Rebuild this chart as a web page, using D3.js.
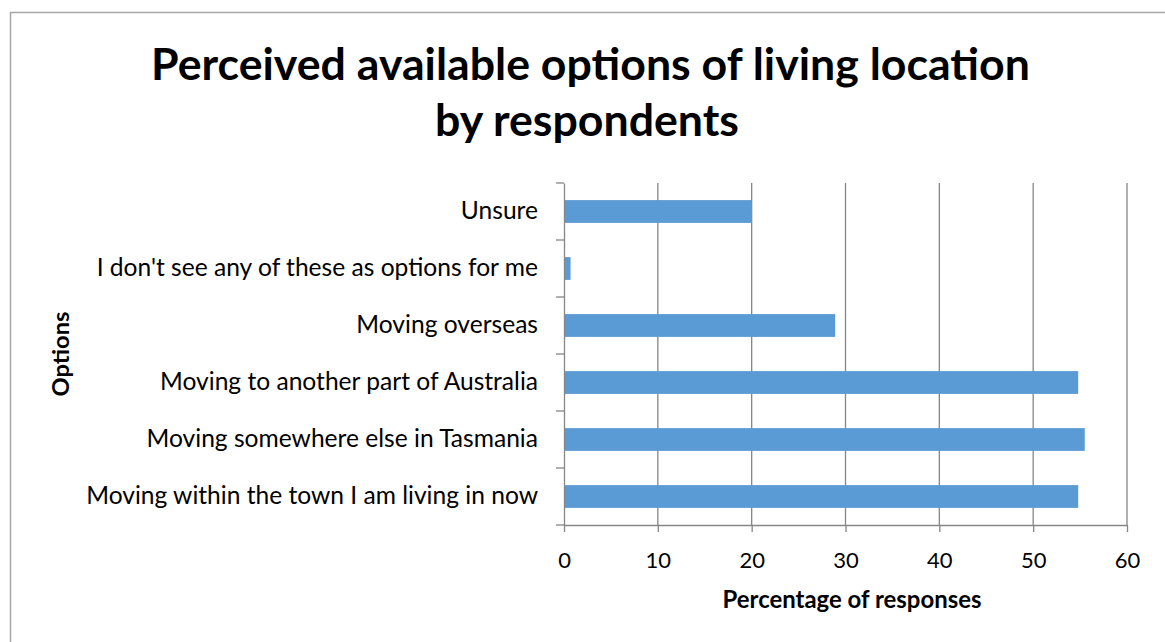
<!DOCTYPE html>
<html><head><meta charset="utf-8">
<script src="https://cdn.jsdelivr.net/npm/d3@7/dist/d3.min.js"></script>
<style>html,body{margin:0;padding:0;background:#fff;}svg{display:block;}</style>
</head><body>
<svg id="chart" width="1165" height="642"></svg>
<script>
const categories = [
  "Unsure",
  "I don't see any of these as options for me",
  "Moving overseas",
  "Moving to another part of Australia",
  "Moving somewhere else in Tasmania",
  "Moving within the town I am living in now"
];
const values = [20.0, 0.7, 28.9, 54.8, 55.5, 54.8];
const xTicks = [0, 10, 20, 30, 40, 50, 60];
const titleLines = ["Perceived available options of living location", "by respondents"];
const xTitle = "Percentage of responses";
const yTitle = "Options";

const FONT = "Lato, 'Open Sans', sans-serif";
const svg = d3.select("#chart");
const plot = {left: 564, right: 1127, top: 183, bottom: 525};
const gridColor = "#868686";

function fit(sel, target) {
  const node = sel.node();
  const fs = parseFloat(sel.attr("font-size"));
  const w = node.getComputedTextLength();
  sel.attr("font-size", (fs * target / w).toFixed(2));
}

// outer border
svg.append("rect").attr("x", 10.5).attr("y", 12.5).attr("width", 1165).attr("height", 700)
  .attr("fill", "#fff").attr("stroke", "#a6a6a6").attr("stroke-width", 1.5);

const x = d3.scaleLinear().domain([0, 60]).range([plot.left, plot.right]);
const y = d3.scaleBand().domain(categories).range([plot.top, plot.bottom]).paddingInner(0.6).paddingOuter(0.3);

// gridlines
svg.append("g").selectAll("line").data(xTicks.slice(1)).join("line")
  .attr("x1", d => x(d)).attr("x2", d => x(d))
  .attr("y1", plot.top).attr("y2", plot.bottom)
  .attr("stroke", gridColor).attr("stroke-width", 1.3);

// bars
svg.append("g").selectAll("rect").data(categories).join("rect")
  .attr("x", x(0)).attr("y", d => y(d))
  .attr("width", (d, i) => x(values[i]) - x(0))
  .attr("height", y.bandwidth())
  .attr("fill", "#5b9bd5");

// x axis
const xAxis = svg.append("g").attr("transform", `translate(0,${plot.bottom})`)
  .call(d3.axisBottom(x).tickValues(xTicks).tickSize(7).tickSizeOuter(0));
xAxis.attr("font-size", 22);
xAxis.select(".domain").attr("stroke", gridColor).attr("stroke-width", 1.3);
xAxis.selectAll(".tick line").attr("stroke", gridColor).attr("stroke-width", 1.3);
xAxis.selectAll(".tick text").attr("font-family", FONT).style("font-size", "22px").attr("fill", "#000")
  .attr("y", 43).attr("dy", "0");

// y axis
const yAxis = svg.append("g").attr("transform", `translate(${plot.left},0)`)
  .call(d3.axisLeft(y).tickSize(0).tickPadding(26));
yAxis.select(".domain").attr("stroke", gridColor).attr("stroke-width", 1.3);
yAxis.selectAll(".tick text").attr("font-family", FONT).attr("font-size", 20).attr("fill", "#000");
// boundary ticks between categories
const bounds = d3.range(categories.length + 1).map(i => plot.top + i * (plot.bottom - plot.top) / categories.length);
yAxis.append("g").selectAll("line").data(bounds).join("line")
  .attr("x1", -8).attr("x2", 0).attr("y1", d => d).attr("y2", d => d)
  .attr("stroke", gridColor).attr("stroke-width", 1.3);

// fit label font-size using the longest label
const longest = yAxis.selectAll(".tick text").filter(d => d === categories[5]);
const w0 = longest.node().getComputedTextLength();
const labFs = 20 * 452 / w0;
yAxis.selectAll(".tick text").attr("font-size", labFs.toFixed(2));

// title
const t1 = svg.append("text").attr("x", 590.5).attr("y", 80).attr("text-anchor", "middle")
  .attr("font-family", FONT).attr("font-weight", "bold").attr("font-size", 40).text(titleLines[0]);
fit(t1, 879);
const t2 = svg.append("text").attr("x", 587).attr("y", 136).attr("text-anchor", "middle")
  .attr("font-family", FONT).attr("font-weight", "bold").attr("font-size", t1.attr("font-size")).text(titleLines[1]);

// axis titles
const xt = svg.append("text").attr("x", 852).attr("y", 608).attr("text-anchor", "middle")
  .attr("font-family", FONT).attr("font-weight", "bold").attr("font-size", 20).text(xTitle);
fit(xt, 259);
const yt = svg.append("text").attr("transform", `translate(69,${(plot.top + plot.bottom) / 2}) rotate(-90)`)
  .attr("text-anchor", "middle")
  .attr("font-family", FONT).attr("font-weight", "bold").attr("font-size", 20).text(yTitle);
fit(yt, 85);
</script>
</body></html>
